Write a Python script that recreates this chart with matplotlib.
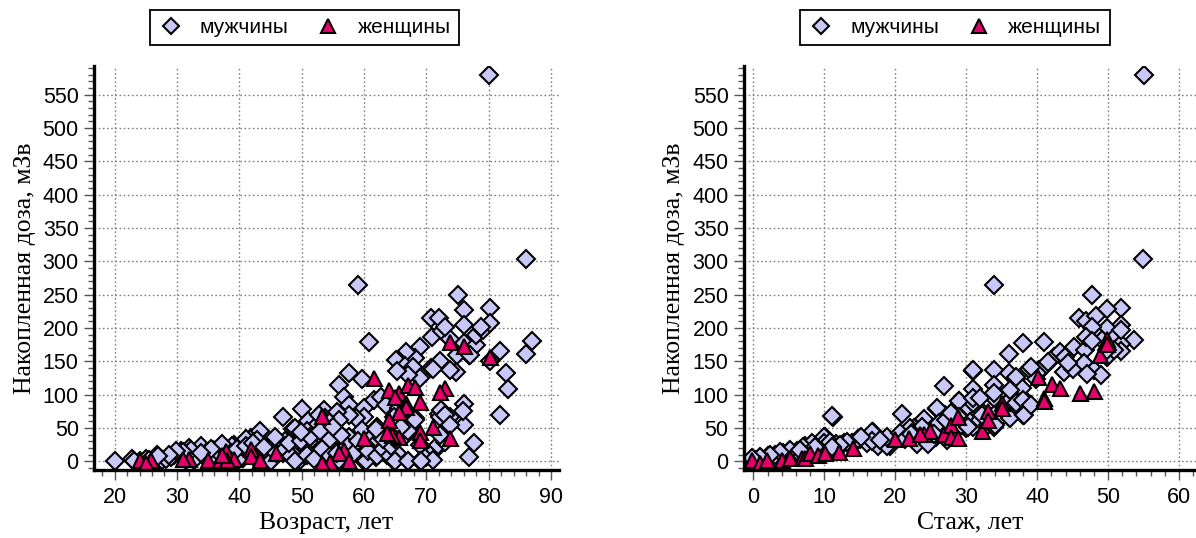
import matplotlib
matplotlib.use("Agg")
import matplotlib.pyplot as plt
from matplotlib.ticker import MultipleLocator

# --- left panel: age vs accumulated dose ---
age_men = [20, 22.8, 24.1, 25, 26.8, 27.6, 28.2, 29.5, 30.6, 31.1, 32, 31.4, 32.8, 33.8, 34.6, 35.7,
           36.5, 37.3, 37.9, 39.2, 39.8, 40.6, 41.1, 41.4, 41.9, 43, 43.3, 44, 45.1, 45.7, 47, 47.3,
           48.4, 49.2, 49.7, 50, 51, 51.9, 53.2, 53.5, 53.8, 51.6, 50.5, 47, 46.2, 49, 44, 42.5,
           39.8, 38.1, 35, 32.2, 29, 23.1, 25.5, 45.9, 41.4, 48.6, 50.8, 51.6, 53.2,
           60.8, 81.8, 85.9, 87.0, 82.8, 83.1, 81.8, 77.7, 76.9, 76.1, 76.1, 75.9, 72.6, 73.7, 72,
           74.8, 73.7, 72.1, 70.8, 68.9, 70.9, 72.5, 76.1, 77.9, 77.9, 79.1, 76.9, 74.9, 68.1, 66.8,
           65.6, 65.1, 66.6, 67.8, 68.9, 67, 65.3, 71, 59.7, 57.6, 56, 56.8, 57.6, 61.6, 62.7, 63.5,
           65.6, 64.8, 66.7, 68.1, 72.1, 72.4, 72.9, 73.7, 60, 60, 58.7, 57.6, 53.5, 55.7, 56, 54.6,
           53.8, 52.7, 55.4, 57.6, 59.7, 62.1, 60.8, 63, 61.9, 63.5, 65.1, 66.7, 67.3, 68.1, 68.9,
           70, 71.3, 71.9, 72.9, 67, 64.8, 68.9, 71, 60, 61.9, 57.8, 54.9, 54.3, 56.8, 58.7, 61,
           63.7, 65.3, 56, 53.8, 53, 80.2, 73.8, 77,
           59, 86, 80, 75, 76.1, 80.2, 80.2, 76.1, 78.8, 70.8, 72, 72.9,
           45, 45.9, 47.4, 48.3, 48.9, 50.8, 52, 53.2, 54.5, 55.7, 57.2, 58.4, 60.3, 60.6, 62.1, 63,
           64.1, 64.9, 67.1, 69.2, 64.3, 48, 49.9, 51.4, 54.5, 56.3, 59.1, 63, 64.9, 41, 42.8, 45.8,
           48.9, 49.9, 52.9, 55, 61.9, 67.1, 72.2, 65.9, 38.8, 39.7, 41, 42.2, 44, 37.3, 35.4, 33.9,
           30.9, 29.9, 28.7, 26.9]
dose_men_age = [0, 3.5, 0, 3.5, 10, 1.5, 3.5, 10, 15, 6.5, 20, 2.5, 2.5, 23, 12.6, 17.7,
                5, 25, 15, 25, 12.6, 5, 30, 15, 35, 33, 45, 20, 2.5, 35, 66, 30,
                23, 38, 2.5, 78, 61, 50.5, 48, 28, 2.5, 18, 10, 12.6, 18, 7.6, 10, 5,
                1.5, 2.5, 2.5, 17.7, 6.5, 0, 2.5, 27, 25, 48, 45.5, 33, 20,
                179, 166, 161, 181, 132, 108, 69.5, 27, 7, 86, 54.5, 75, 74, 67, 71,
                134, 137, 150, 140, 172, 187, 195, 177, 175, 190, 197, 160, 160, 155, 164,
                150, 152, 143, 142, 125, 130, 135, 138, 123, 132, 114, 97, 84.5, 92, 97, 84.5,
                79.5, 67, 69.5, 64.5, 67, 77, 70, 55, 79.5, 67, 64.5, 69.5, 77, 74, 62, 52,
                64.5, 69.5, 39.5, 37, 47, 52, 32, 39.5, 27, 24.5, 34.5, 39.5, 52, 62, 24.5,
                7, 17, 24.5, 29.5, 0, 0, 0, 2, 0, 7, 7, 32, 22, 14.5, 19.5, 17,
                9.5, 12, 2, 4.5, 39.5, 150, 183, 159,
                265, 303, 580, 250, 227, 230, 207, 205, 202, 215, 215, 202,
                0, 13, 18, 8, 0, 10, 3, 18, 8, 13, 23, 13, 0, 15, 8, 18,
                8, 0, 0, 0, 23, 28, 31, 36, 34, 39, 31, 34, 34, 33, 32, 36,
                50, 44, 46, 52, 49, 45, 40, 52, 23, 18, 23, 28, 21, 26, 18, 13,
                14, 15, 10, 8]

age_women = [24.1, 25.8, 32, 35, 37.9, 39.1, 41.9, 41.9, 43.3, 45.9, 53.2, 30.9, 36.9, 38.1,
             37.2, 25,
             73.7, 76.1, 80.2, 61.6, 64, 65.6, 67, 68.1, 72.9, 72.1, 68.9, 66.7, 66.7, 65.6,
             64, 71, 68.9, 68.9, 73.7, 65.6, 64.5, 63.7, 60, 56.8, 56, 57.6, 54.6, 53.3, 64.9]
dose_women_age = [1.5, 1.5, 3.5, 1.5, 15, 3.5, 18.7, 8.6, 1.5, 12.6, 68, 3.5, 2.5, 1.5,
                  10, -3,
                  179.5, 173, 157, 124.6, 107, 102, 114.5, 112, 109.5, 104.5, 89.5, 87, 82, 74.5,
                  62, 52, 44.5, 32, 34.5, 37, 39.5, 42, 34.5, 17, 12, 0, -1.5, -2, 96]

# --- right panel: work experience vs accumulated dose ---
stazh_men = [-0.9, 0.2, 1, 2, 3.1, 4.1, 5, 6.1, 7.2, 8.2, 9, 10.1, 10.6, 11.2, 11.7, 12.8, 13.9,
             15, 16, 16.8, 17.6, 18.4, 19.2,
             11.1, 20.9, 26.8, 30.9, 30.9, 29, 25.9, 23.9, 22.6, 20.7, 18.8, 16.7, 16.7, 14.8, 13.2,
             9.9, 9.9, 10.8, 8.2, 7, 5.2, 3.7, 2.3, 0.9, -0.25, 25, 23.1, 27.3, 28.2, 31, 31, 30.2,
             18.8, 17.9, 15.2, 6.6, 8.7, 12.2, 11.1,
             36, 38, 41, 36, 37, 38.9, 33.9, 36, 38, 38, 39, 37, 36, 32, 31, 29, 27, 25.9, 29,
             29.9, 30.6, 32, 33, 33.9, 33.9, 34.9, 24, 22, 25, 23.7, 22.4, 20.7, 25.7, 26.2, 27.1,
             27.8, 40.3, 41, 42.4, 41.5, 43.2, 43.9, 45.2, 43.8, 45, 46.7, 46.6, 48, 49, 45.9, 46.9,
             48.3, 47.8, 51.8, 49.8, 51.8, 49.8, 53.7, 50.8, 51.8, 51.8, 48.8, 47.9, 54.9, 33.9,
             55, 33.9, 31, 33.9,
             44.3, 47, 49.8, 50.8, 40, 37.9, 39.8, 31, 33.9, 32, 36.2, 38, 47.8, 51.8, 46.9, 47.8,
             49.8,
             21.4, 22.2, 23, 24.6, 25.4, 29.2, 30.3, 32.2, 34, 36.2, 38.1, 39.1, 39.1, 37]
dose_men_stazh = [-5, 2.6, 5, 7.7, 10, 13, 15.5, 15.5, 23, 20.7, 18, 36, 28, 67, 26, 28, 28,
                  33.6, 28, 44, 23, 31, 23,
                  68, 71, 113, 136, 109, 90, 78, 61, 49.5, 37, 23, 44, 30, 33, 29.5,
                  37, 27, 29, 27, 22, 17, 14.5, 9.5, 7, 4.5, 32, 27, 32, 47, 67, 52, 82,
                  37, 32, 37, 17, 22, 24, 22,
                  161, 177, 179, 132, 123, 139, 95, 90, 69, 95, 85, 88, 67, 77, 87, 90, 70, 79.5, 67,
                  49.5, 59, 62, 54, 51.7, 69, 67, 63, 50, 47, 52, 42, 42, 37, 57, 62,
                  72, 137, 142, 157, 149, 164, 157, 172, 134, 139, 167, 147, 137, 130, 215, 210,
                  218, 250, 230, 228, 205, 200, 182, 185, 176, 166, 185, 195, 303, 137,
                  580, 265, 137, 115,
                  148, 131, 157, 167, 132, 110, 124, 95, 103, 95, 107, 92, 202, 197, 187, 180,
                  167,
                  33.6, 41, 26, 26, 41, 54, 52, 70, 54, 65, 70, 85, 142, 127]

stazh_women = [-0.25, 0.9, 1.9, 4, 5.1, 6.8, 7.2, 8, 9.1, 10.1, 12, 14.1,
               20, 21.9, 24.1, 24.9, 26.8, 27.8, 27.8, 28.9, 28.9, 32.2, 33, 33, 35.1, 35.1,
               40.1, 41, 41, 42.1, 43.2, 46.1, 48, 48.8, 49.9, 49.9, 23.5]
dose_women_stazh = [2, -2, 2, 2, 4.5, 4.5, 5, 12, 9.5, 12, 14.5, 19.5,
                    33.6, 34.6, 41, 45, 41, 54, 37, 67, 34.6, 45, 75, 62, 88, 80,
                    127, 95, 90, 116, 110, 103, 106, 160, 183, 176, 41]

men_color = '#c8c8f8'
women_color = '#e6006c'

fig = plt.figure(figsize=(11.96, 5.38), dpi=100)
ax1 = fig.add_axes([0.0786, 0.1264, 0.3885, 0.751])
ax2 = fig.add_axes([0.622, 0.1264, 0.378, 0.751])

panels = [
    (ax1, age_men, dose_men_age, age_women, dose_women_age, "Возраст, лет", (16.7, 91.2)),
    (ax2, stazh_men, dose_men_stazh, stazh_women, dose_women_stazh, "Стаж, лет", (-1.35, 62.4)),
]

for ax, xm, ym, xw, yw, xlabel, xlim in panels:
    ax.plot(xm, ym, ls='none', marker='D', ms=9.3, mfc=men_color, mec='black', mew=1.5,
            label='мужчины', zorder=3)
    ax.plot(xw, yw, ls='none', marker='^', ms=10.8, mfc=women_color, mec='black', mew=1.5,
            label='женщины', zorder=4)
    ax.set_xlim(*xlim)
    ax.set_ylim(-13, 593)
    ax.xaxis.set_major_locator(MultipleLocator(10))
    ax.xaxis.set_minor_locator(MultipleLocator(2))
    ax.yaxis.set_major_locator(MultipleLocator(50))
    ax.yaxis.set_minor_locator(MultipleLocator(10))
    ax.grid(True, which='major', color='#808080', lw=1.0, ls=(0, (1.2, 1.8)), zorder=0)
    for side in ['top', 'right']:
        ax.spines[side].set_visible(False)
    for side in ['left', 'bottom']:
        ax.spines[side].set_linewidth(2.4)
        ax.spines[side].set_zorder(5)
    ax.tick_params(which='major', direction='out', length=7, width=1, color='#555555',
                   labelsize=15.5, pad=4)
    ax.tick_params(axis='x', which='major', pad=5)
    ax.tick_params(which='minor', direction='out', length=4, width=1, color='#555555')
    for lab in ax.get_xticklabels() + ax.get_yticklabels():
        lab.set_family('Liberation Sans')
    ax.set_xlabel(xlabel, fontsize=18.5, family='Liberation Serif', labelpad=3)
    ax.set_ylabel("Накопленная доза, мЗв", fontsize=18.5, family='Liberation Serif', labelpad=5)

for ax, cx in [(ax1, 0.2545), (ax2, 0.7985)]:
    fig.legend(*ax.get_legend_handles_labels(), loc='center', bbox_to_anchor=(cx, 0.949),
               ncol=2, frameon=True, fancybox=False, edgecolor='black', framealpha=1,
               prop={'family': 'Liberation Sans', 'size': 15}, markerscale=0.9,
               handlelength=1.2, handletextpad=0.8, columnspacing=1.3, borderpad=0.4)

for leg in fig.legends:
    leg.get_frame().set_linewidth(1.3)

fig.savefig("out.png", dpi=100)
